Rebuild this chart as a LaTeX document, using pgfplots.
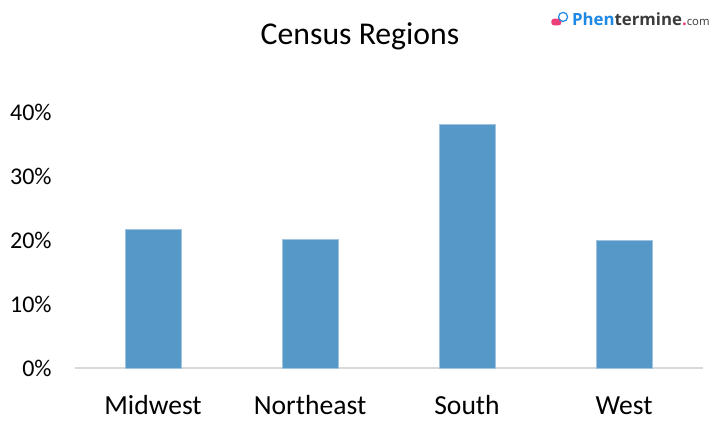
\documentclass[border=0pt]{standalone}
\usepackage{fontspec}
\setmainfont{Carlito}
\newfontfamily\logofont{Open Sans}
\usepackage{pgfplots}
\pgfplotsset{compat=1.18}
\definecolor{barblue}{RGB}{86,153,201}
\definecolor{baredge}{RGB}{160,196,224}
\definecolor{logoblue}{RGB}{30,136,229}
\definecolor{logopink}{RGB}{236,64,122}
\definecolor{logogray}{RGB}{60,60,60}
\begin{document}
\begin{tikzpicture}[x=1pt,y=1pt]
\path[use as bounding box] (0,0) rectangle (540,324);
\begin{axis}[at={(55.9pt,48pt)}, anchor=south west, scale only axis,
  width=471pt, height=192pt,
  xmin=-0.5, xmax=3.5, ymin=0, ymax=40,
  ytick={0,10,20,30,40}, yticklabels={0\%,10\%,20\%,30\%,40\%},
  xtick={0,1,2,3}, xticklabels={Midwest,Northeast,South,West},
  axis x line*=bottom, axis y line*=left,
  y axis line style={draw=none},
  x axis line style={draw=black!15, line width=1.5pt},
  major tick length=0pt, tick style={draw=none},
  /pgf/number format/assume math mode=true,
  yticklabel style={anchor=east, inner sep=0pt, xshift=-17pt, font=\fontsize{18}{20}\selectfont},
  xticklabel style={anchor=base, inner sep=0pt, yshift=-34.7pt, font=\fontsize{20.7}{24}\selectfont},
  ybar, bar width=42pt,
]
\addplot[fill=barblue, draw=baredge, line width=0.6pt] coordinates {(0,21.7) (1,20.1) (2,38.1) (3,19.9)};
\end{axis}
\node[anchor=base, inner sep=0pt, font=\fontsize{23.8}{26}\selectfont] at (270,290.25) {Census Regions};
% logo
\fill[logopink, rounded corners=2pt] (413.5,305) rectangle (421,310);
\draw[logoblue, line width=0.9pt] (422.3,311.3) circle (3.4);
\node[anchor=base west, inner sep=0pt, font=\logofont\bfseries\fontsize{12.6}{14}\selectfont] at (428.8,304.5)
  {\textcolor{logoblue}{Phen}\textcolor{logogray}{termine}\textcolor{logopink}{.}\textcolor{logogray}{\mdseries\fontsize{8.5}{10}\selectfont com}};
\end{tikzpicture}
\end{document}
